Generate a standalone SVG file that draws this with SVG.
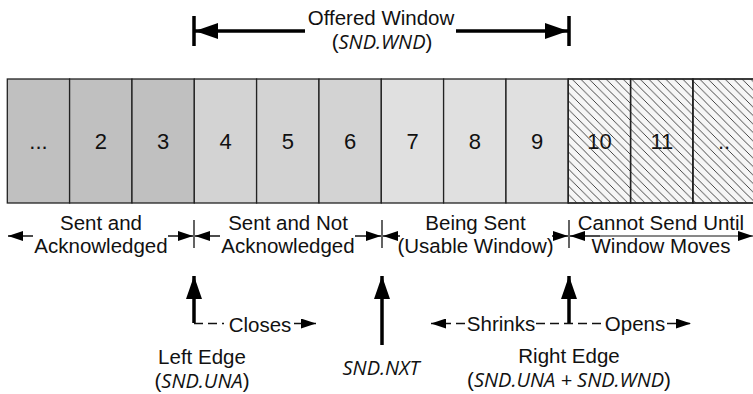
<svg xmlns="http://www.w3.org/2000/svg" width="753" height="394" viewBox="0 0 753 394">
<style>
.t{font-family:"Liberation Sans",Arial,sans-serif;font-size:20.5px;fill:#111;text-anchor:middle}
.n{font-family:"Liberation Sans",Arial,sans-serif;font-size:22px;fill:#111;text-anchor:middle}
.i{font-family:"Open Sans","DejaVu Sans",sans-serif;font-style:italic;font-size:20px}
.c{stroke:#222;stroke-width:1.3}
.a1{fill:#c0c0c0}.a2{fill:#d3d3d3}.a3{fill:#e0e0e0}.a4{fill:#f6f6f6}
.thin{stroke:#111;stroke-width:1.5;fill:none}
.thick{stroke:#000;stroke-width:3.5;fill:none}
.dash{stroke:#111;stroke-width:1.3;fill:none;stroke-dasharray:9 5}
</style>
<defs>
<pattern id="hatch" patternUnits="userSpaceOnUse" width="8.5" height="8.5">
<path d="M-1,-1 L9.5,9.5 M-1,7.5 L1,9.5 M7.5,-1 L9.5,1" stroke="#333" stroke-width="0.9"/>
</pattern>
<marker id="sm" viewBox="0 0 15 10" refX="15" refY="5" markerWidth="15" markerHeight="10" markerUnits="userSpaceOnUse" orient="auto"><path d="M0,0 L15,5 L0,10 z" fill="#000"/></marker>
<marker id="bg" viewBox="0 0 23 16" refX="23" refY="8" markerWidth="23" markerHeight="16" markerUnits="userSpaceOnUse" orient="auto"><path d="M0,0 L23,8 L0,16 z" fill="#000"/></marker>
</defs>

<g id="cells">
<g id="cell-1"><rect class="a1 c" x="7.3" y="79" width="62.3" height="124"/><text class="n" x="38.5" y="149">...</text></g>
<g id="cell-2"><rect class="a1 c" x="69.6" y="79" width="62.3" height="124"/><text class="n" x="100.8" y="149">2</text></g>
<g id="cell-3"><rect class="a1 c" x="132" y="79" width="62.3" height="124"/><text class="n" x="163.2" y="149">3</text></g>
<g id="cell-4"><rect class="a2 c" x="194.3" y="79" width="62.3" height="124"/><text class="n" x="225.5" y="149">4</text></g>
<g id="cell-5"><rect class="a2 c" x="256.6" y="79" width="62.3" height="124"/><text class="n" x="287.8" y="149">5</text></g>
<g id="cell-6"><rect class="a2 c" x="319" y="79" width="62.3" height="124"/><text class="n" x="350.2" y="149">6</text></g>
<g id="cell-7"><rect class="a3 c" x="381.3" y="79" width="62.3" height="124"/><text class="n" x="412.5" y="149">7</text></g>
<g id="cell-8"><rect class="a3 c" x="443.6" y="79" width="62.3" height="124"/><text class="n" x="474.8" y="149">8</text></g>
<g id="cell-9"><rect class="a3 c" x="506" y="79" width="62.3" height="124"/><text class="n" x="537.2" y="149">9</text></g>
<g id="cell-10"><rect class="a4 c" x="568.3" y="79" width="62.3" height="124"/><text class="n" x="599.5" y="149">10</text><rect x="568.3" y="79" width="62.3" height="124" fill="url(#hatch)" class="c"/></g>
<g id="cell-11"><rect class="a4 c" x="630.6" y="79" width="62.3" height="124"/><text class="n" x="661.8" y="149">11</text><rect x="630.6" y="79" width="62.3" height="124" fill="url(#hatch)" class="c"/></g>
<g id="cell-12"><rect class="a4 c" x="693" y="79" width="62.3" height="124"/><text class="n" x="724" y="149">..</text><rect x="693" y="79" width="62.3" height="124" fill="url(#hatch)" class="c"/></g>
</g>

<g id="offered-window"><text class="t" x="381" y="25">Offered Window</text><text class="t" x="382" y="49">(<tspan class="i">SND.WND</tspan>)</text></g>
<g id="sent-acked"><text class="t" x="101" y="230">Sent and</text><text class="t" x="101" y="253">Acknowledged</text></g>
<g id="sent-not-acked"><text class="t" x="288" y="230">Sent and Not</text><text class="t" x="288" y="253">Acknowledged</text></g>
<g id="being-sent"><text class="t" x="475.5" y="230">Being Sent</text><text class="t" x="475.5" y="253">(Usable Window)</text></g>
<g id="cannot-send"><text class="t" x="661" y="230">Cannot Send Until</text><text class="t" x="661" y="253">Window Moves</text></g>
<g id="left-edge"><text class="t" x="202" y="364">Left Edge</text><text class="t" x="202" y="388">(<tspan class="i">SND.UNA</tspan>)</text></g>
<g id="snd-nxt"><text class="t i" x="381" y="375">SND.NXT</text></g>
<g id="right-edge"><text class="t" x="569" y="363">Right Edge</text><text class="t" x="569" y="387">(<tspan class="i">SND.UNA + SND.WND</tspan>)</text></g>
<g id="closes"><text class="t" x="260" y="332">Closes</text></g>
<g id="shrinks"><text class="t" x="501" y="331">Shrinks</text></g>
<g id="opens"><text class="t" x="635" y="331">Opens</text></g>

<g id="connectors">
<path class="thick" d="M194,16 V46 M569,16 V46"/>
<path class="thick" d="M305,31 H195" marker-end="url(#bg)"/>
<path class="thick" d="M456,31 H568" marker-end="url(#bg)"/>
<path class="thin" d="M33,236 H8" marker-end="url(#sm)"/>
<path class="thin" d="M168,236 H193" marker-end="url(#sm)"/>
<path class="thin" d="M220,236 H195" marker-end="url(#sm)"/>
<path class="thin" d="M355,236 H381" marker-end="url(#sm)"/>
<path class="thin" d="M400,236 H383" marker-end="url(#sm)"/>
<path class="thin" d="M552,236 H568" marker-end="url(#sm)"/>
<path class="thin" d="M600,236 H570" marker-end="url(#sm)"/>
<path class="thin" d="M600,236 H753" marker-end="url(#sm)" style="stroke-width:1"/>
<path class="c" d="M194,220 V248 M382,220 V248 M569,220 V248" style="stroke:#111"/>
<path class="thick" d="M194,323 V276" marker-end="url(#bg)"/>
<path class="thick" d="M382,345 V276" marker-end="url(#bg)"/>
<path class="thick" d="M569,323 V276" marker-end="url(#bg)"/>
<path class="dash" d="M194,323.5 H224"/>
<path class="dash" d="M294,323.5 H316" marker-end="url(#sm)"/>
<path class="dash" d="M465,323.5 H431" marker-end="url(#sm)"/>
<path class="dash" d="M536,323.5 H603"/>
<path class="dash" d="M667,323.5 H691" marker-end="url(#sm)"/>
</g>
</svg>
